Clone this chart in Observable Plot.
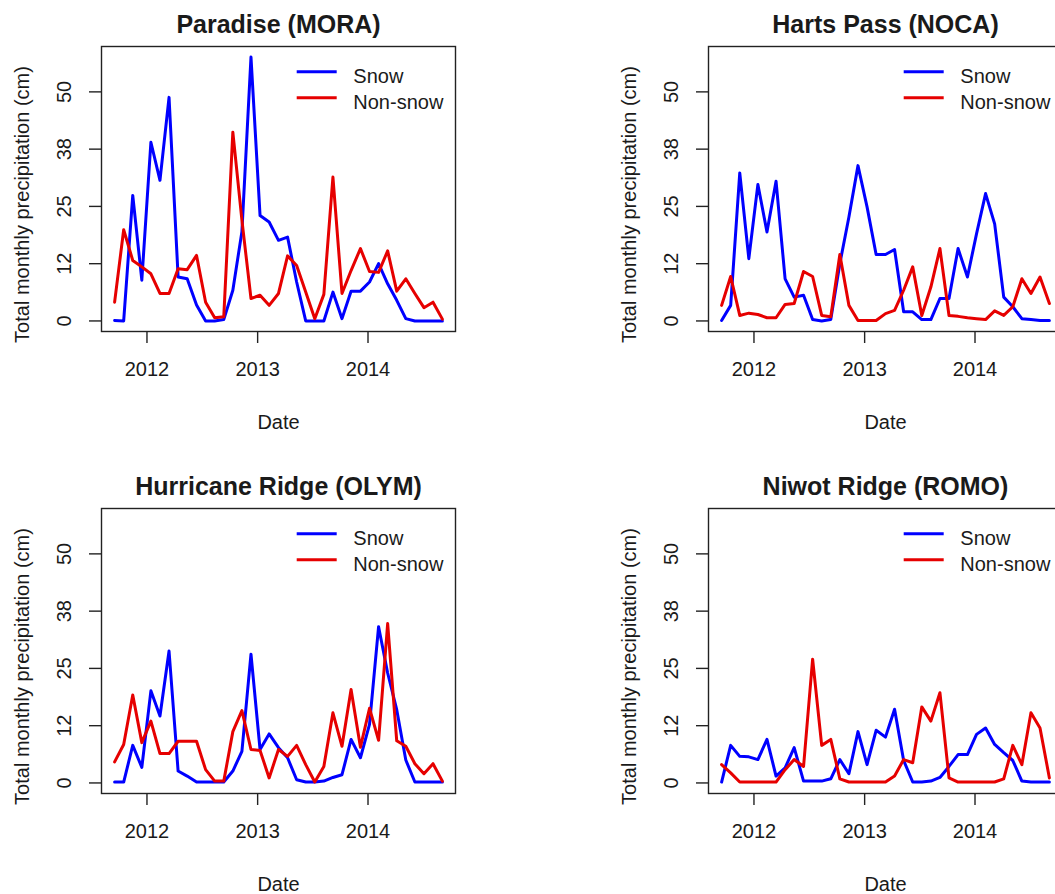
<!DOCTYPE html>
<html><head><meta charset="utf-8">
<script src="https://cdn.jsdelivr.net/npm/d3@7"></script>
<script src="https://cdn.jsdelivr.net/npm/@observablehq/plot@0.6"></script>
<style>
html,body{margin:0;padding:0;background:#fff;}
#root{position:relative;width:1055px;height:894px;overflow:hidden;background:#fff;font-family:"Liberation Sans",Arial,sans-serif;}
.panel{position:absolute;width:500px;height:441px;}
.panel svg{display:block;overflow:visible;position:absolute;left:0;top:0;}
</style></head><body><div id="root"></div>
<script>
// ---- data ----
const dates = ["2011-09-16","2011-10-16","2011-11-15","2011-12-15","2012-01-14","2012-02-13","2012-03-14","2012-04-13","2012-05-13","2012-06-13","2012-07-13","2012-08-12","2012-09-11","2012-10-11","2012-11-10","2012-12-10","2013-01-09","2013-02-08","2013-03-11","2013-04-10","2013-05-10","2013-06-09","2013-07-09","2013-08-08","2013-09-07","2013-10-07","2013-11-06","2013-12-07","2014-01-06","2014-02-05","2014-03-07","2014-04-06","2014-05-06","2014-06-05","2014-07-05","2014-08-04","2014-09-04"];
const seriesNames = ["Snow", "Non-snow"];
const seriesColors = ["#0000ff", "#e60000"];
const siteTitles = ["Paradise (MORA)", "Harts Pass (NOCA)", "Hurricane Ridge (OLYM)", "Niwot Ridge (ROMO)"];
const xTickLabels = ["2012", "2013", "2014"];
const yTicks = [0, 12.5, 25, 37.5, 50];
const yTickLabels = ["0", "12", "25", "38", "50"];
const xLabel = "Date";
const yLabel = "Total monthly precipitation (cm)";

const paradiseSnow = [0.1,0,27.4,8.9,39.0,30.7,48.8,9.6,9.2,3.5,0,0,0.3,6.7,19.5,57.6,23.0,21.6,17.6,18.3,8.5,0,0,0,6.3,0.5,6.5,6.5,8.5,12.5,8.1,4.5,0.5,0,0,0,0];
const paradiseNonSnow = [4.1,19.9,13.2,11.8,10.3,6.0,6.0,11.4,11.2,14.3,4.1,0.7,0.9,41.2,22.0,4.9,5.6,3.4,6.0,14.2,12.1,6.3,0.5,5.8,31.4,6.0,11.0,15.8,10.8,10.6,15.3,6.5,9.2,6.0,2.9,4.1,0.4];
const hartsSnow = [0.1,3.4,32.3,13.6,29.8,19.4,30.5,9.2,5.2,5.6,0.3,0,0.3,12.5,22.7,33.9,24.9,14.5,14.5,15.6,2.0,2.0,0.3,0.3,4.9,4.9,15.8,9.6,19.0,27.8,21.2,5.2,3.1,0.5,0.3,0.1,0.1];
const hartsNonSnow = [3.4,9.7,1.2,1.7,1.4,0.7,0.7,3.6,3.8,10.8,9.7,1.2,0.9,14.5,3.4,0.1,0.1,0.1,1.6,2.3,6.7,11.8,1.2,7.4,15.8,1.2,1.0,0.7,0.5,0.3,2.2,1.2,3.1,9.2,6.0,9.6,3.8];
const hurricaneSnow = [0.2,0.2,8.2,3.4,20.1,14.6,28.8,2.6,1.5,0.2,0.2,0.2,0.2,2.6,6.9,28.1,7.3,10.7,7.7,5.5,0.7,0.2,0.2,0.4,1.2,1.8,9.5,5.5,12.8,34.1,24.0,16.0,5.0,0.2,0.2,0.2,0.2];
const hurricaneNonSnow = [4.6,8.4,19.2,8.8,13.5,6.4,6.4,9.1,9.1,9.1,2.9,0.4,0.4,11.2,15.8,7.3,7.1,1.1,7.3,5.8,8.2,4.0,0.2,3.6,15.3,8.0,20.4,7.8,16.3,9.3,34.8,9.2,8.0,4.2,2.0,4.2,0.4];
const niwotSnow = [0.2,8.2,5.8,5.7,5.1,9.5,1.5,3.3,7.7,0.4,0.4,0.4,0.9,5.1,2.0,11.2,4.0,11.5,10.0,16.1,4.9,0.2,0.2,0.4,1.2,3.6,6.2,6.2,10.6,12.0,8.4,6.6,4.9,0.4,0.2,0.2,0.2];
const niwotNonSnow = [4.0,2.2,0.2,0.2,0.2,0.2,0.2,2.9,5.1,3.6,27.0,8.2,9.5,0.9,0.2,0.2,0.2,0.2,0.2,1.5,5.1,4.4,16.6,13.5,19.7,1.1,0.2,0.2,0.2,0.2,0.2,0.9,8.2,4.0,15.3,12.0,1.1];

// ---- layout ----
const FONT = '"Liberation Sans", Arial, Helvetica, sans-serif';
const INK = "#1a1a1a";
const panels = [
  {title: siteTitles[0], series: [paradiseSnow, paradiseNonSnow], left: 0, top: 0},
  {title: siteTitles[1], series: [hartsSnow, hartsNonSnow], left: 607, top: 0},
  {title: siteTitles[2], series: [hurricaneSnow, hurricaneNonSnow], left: 0, top: 462},
  {title: siteTitles[3], series: [niwotSnow, niwotNonSnow], left: 607, top: 462}
];

const parse = d3.utcParse("%Y-%m-%d");
const D = dates.map(parse);
const ext = d3.extent(D);
const xpad = (ext[1] - ext[0]) * 0.04;
const xDomain = [new Date(+ext[0] - xpad), new Date(+ext[1] + xpad)];
const ymax = d3.max(panels.flatMap(p => p.series.flat()));
const yDomain = [-0.04 * ymax, ymax * 1.04];
const xTicks = xTickLabels.map(y => parse(y + "-01-01"));
const yLabelMap = new Map(yTicks.map((t, i) => [t, yTickLabels[i]]));

const ML = 101, MT = 46, PW = 354, PH = 285, W = 500, H = 441;
const root = document.getElementById("root");

for (const p of panels) {
  const rows = [];
  p.series.forEach((vals, s) => vals.forEach((v, i) => rows.push({date: D[i], value: v, series: seriesNames[s]})));
  const chart = Plot.plot({
    width: W, height: H,
    marginLeft: ML, marginTop: MT, marginRight: W - ML - PW, marginBottom: H - MT - PH,
    style: {fontFamily: FONT, fontSize: "20px", color: INK, background: "transparent", overflow: "visible"},
    x: {type: "utc", domain: xDomain},
    y: {domain: yDomain},
    color: {domain: seriesNames, range: seriesColors},
    marks: [
      Plot.line(rows, {x: "date", y: "value", z: "series", stroke: "series", strokeWidth: 3, strokeLinejoin: "round"}),
      Plot.frame({stroke: "#222", strokeWidth: 1.4}),
      Plot.axisX({ticks: xTicks, tickFormat: d3.utcFormat("%Y"), tickSize: 12, tickPadding: 18.5, label: null, stroke: "#222", strokeWidth: 1.4}),
      Plot.axisY({ticks: yTicks, tickFormat: d => yLabelMap.get(d), tickSize: 12, tickPadding: 19, tickRotate: -90, label: null, stroke: "#222", strokeWidth: 1.4}),
      Plot.text([p.title], {text: d => d, frameAnchor: "top", dy: -13.5, lineAnchor: "bottom", fontSize: 25, fontWeight: "bold"}),
      Plot.text([yLabel], {text: d => d, frameAnchor: "left", dx: -72.7, dy: 15.5, rotate: -90, lineAnchor: "bottom", textAnchor: "middle", fontSize: 20}),
      Plot.text([xLabel], {text: d => d, frameAnchor: "bottom", dy: 97.3, lineAnchor: "bottom", fontSize: 20})
    ]
  });
  const div = document.createElement("div");
  div.className = "panel";
  div.style.left = p.left + "px";
  div.style.top = p.top + "px";
  div.appendChild(chart);
  // legend (top-right inside the box)
  const leg = d3.create("svg").attr("width", W).attr("height", H)
    .style("font-family", FONT).style("font-size", "20px");
  seriesNames.forEach((name, i) => {
    leg.append("line")
      .attr("x1", ML + 195.7).attr("x2", ML + 235.7)
      .attr("y1", MT + 25.7 + 26 * i).attr("y2", MT + 25.7 + 26 * i)
      .attr("stroke", seriesColors[i]).attr("stroke-width", 3);
    leg.append("text")
      .attr("x", ML + 252.3).attr("y", MT + 36.7 + 25.8 * i)
      .attr("fill", INK).text(name);
  });
  div.appendChild(leg.node());
  root.appendChild(div);
}
</script>
</body></html>
